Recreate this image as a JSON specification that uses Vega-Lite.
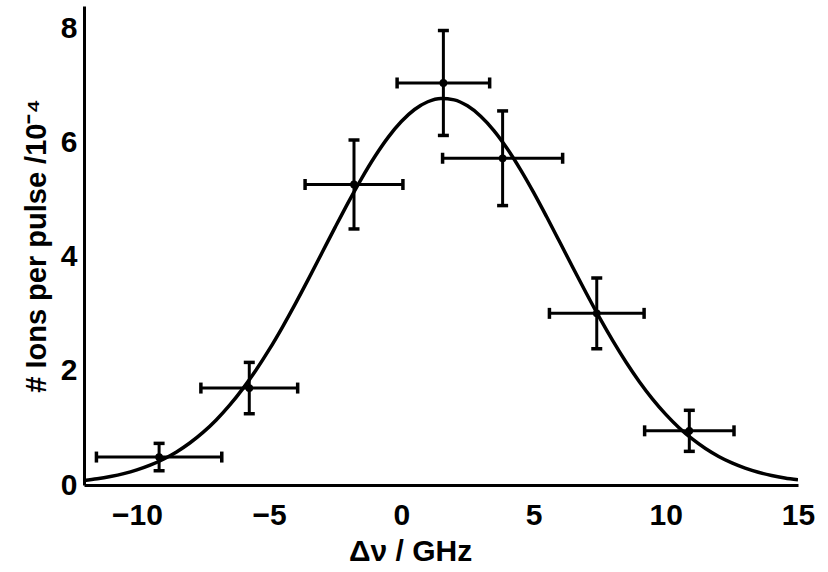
{
  "$schema": "https://vega.github.io/schema/vega-lite/v6.json",
  "autosize": {"type": "none"},
  "width": 714,
  "height": 479,
  "padding": {"left": 84, "top": 6, "right": 30, "bottom": 87},
  "background": "white",
  "config": {
    "view": {"stroke": null},
    "font": "Liberation Sans",
    "axis": {
      "grid": false,
      "domainColor": "black",
      "domainWidth": 3,
      "ticks": false,
      "labelFont": "Liberation Sans",
      "labelFontWeight": "bold",
      "labelFontSize": 30,
      "labelColor": "black",
      "titleFont": "Liberation Sans",
      "titleFontWeight": "bold",
      "titleFontSize": 30,
      "titleColor": "black"
    }
  },
  "datasets": {
    "points": [
      {"dv": -9.16, "ions": 0.49, "dvErr": 2.37, "ionsErr": 0.24},
      {"dv": -5.75, "ions": 1.70, "dvErr": 1.83, "ionsErr": 0.45},
      {"dv": -1.79, "ions": 5.27, "dvErr": 1.85, "ionsErr": 0.78},
      {"dv": 1.59, "ions": 7.05, "dvErr": 1.75, "ionsErr": 0.92},
      {"dv": 3.83, "ions": 5.73, "dvErr": 2.27, "ionsErr": 0.83},
      {"dv": 7.39, "ions": 3.01, "dvErr": 1.79, "ionsErr": 0.62},
      {"dv": 10.89, "ions": 0.95, "dvErr": 1.69, "ionsErr": 0.36}
    ],
    "fit": [
      {"dv": -12, "ions": 0.079}, {"dv": -11.5, "ions": 0.108}, {"dv": -11, "ions": 0.148},
      {"dv": -10.5, "ions": 0.199}, {"dv": -10, "ions": 0.265}, {"dv": -9.5, "ions": 0.348},
      {"dv": -9, "ions": 0.452}, {"dv": -8.5, "ions": 0.580}, {"dv": -8, "ions": 0.736},
      {"dv": -7.5, "ions": 0.922}, {"dv": -7, "ions": 1.141}, {"dv": -6.5, "ions": 1.395},
      {"dv": -6, "ions": 1.686}, {"dv": -5.5, "ions": 2.012}, {"dv": -5, "ions": 2.373},
      {"dv": -4.5, "ions": 2.766}, {"dv": -4, "ions": 3.185}, {"dv": -3.5, "ions": 3.623},
      {"dv": -3, "ions": 4.072}, {"dv": -2.5, "ions": 4.522}, {"dv": -2, "ions": 4.962},
      {"dv": -1.5, "ions": 5.379}, {"dv": -1, "ions": 5.761}, {"dv": -0.5, "ions": 6.097},
      {"dv": 0, "ions": 6.374}, {"dv": 0.5, "ions": 6.585}, {"dv": 1, "ions": 6.721},
      {"dv": 1.5, "ions": 6.778}, {"dv": 2, "ions": 6.754}, {"dv": 2.5, "ions": 6.649},
      {"dv": 3, "ions": 6.467}, {"dv": 3.5, "ions": 6.215}, {"dv": 4, "ions": 5.901},
      {"dv": 4.5, "ions": 5.536}, {"dv": 5, "ions": 5.132}, {"dv": 5.5, "ions": 4.699},
      {"dv": 6, "ions": 4.252}, {"dv": 6.5, "ions": 3.801}, {"dv": 7, "ions": 3.358},
      {"dv": 7.5, "ions": 2.930}, {"dv": 8, "ions": 2.527}, {"dv": 8.5, "ions": 2.153},
      {"dv": 9, "ions": 1.812}, {"dv": 9.5, "ions": 1.507}, {"dv": 10, "ions": 1.239},
      {"dv": 10.5, "ions": 1.005}, {"dv": 11, "ions": 0.807}, {"dv": 11.5, "ions": 0.639},
      {"dv": 12, "ions": 0.500}, {"dv": 12.5, "ions": 0.387}, {"dv": 13, "ions": 0.296},
      {"dv": 13.5, "ions": 0.224}, {"dv": 14, "ions": 0.167}, {"dv": 14.5, "ions": 0.123},
      {"dv": 15, "ions": 0.090}
    ]
  },
  "layer": [
    {
      "data": {"name": "fit"},
      "mark": {"type": "line", "color": "black", "strokeWidth": 3.5, "interpolate": "monotone", "clip": true},
      "encoding": {
        "x": {
          "field": "dv", "type": "quantitative", "title": "Δν / GHz",
          "scale": {"domain": [-12, 15], "nice": false, "zero": false},
          "axis": {
            "values": [-10, -5, 0, 5, 10, 15],
            "format": "d",
            "labelExpr": "replace(datum.label, '-', '−')",
            "labelPadding": 15,
            "labelFlush": false,
            "titleFontSize": 30,
            "titleX": 326,
            "titleY": 75,
            "titleAlign": "center",
            "titleBaseline": "alphabetic"
          }
        },
        "y": {
          "field": "ions", "type": "quantitative", "title": "# Ions per pulse /10⁻⁴",
          "scale": {"domain": [0, 8.4], "nice": false},
          "axis": {
            "values": [0, 2, 4, 6, 8],
            "format": "d",
            "labelPadding": 7,
            "labelFlush": false,
            "titleFontSize": 29,
            "titlePadding": 9
          }
        }
      }
    },
    {
      "data": {"name": "points"},
      "mark": {"type": "errorbar", "color": "black", "thickness": 3, "ticks": {"size": 11, "thickness": 3.5, "color": "black", "opacity": 1}},
      "encoding": {
        "x": {"field": "dv", "type": "quantitative", "title": "Δν / GHz"},
        "xError": {"field": "dvErr"},
        "y": {"field": "ions", "type": "quantitative", "title": "# Ions per pulse /10⁻⁴"}
      }
    },
    {
      "data": {"name": "points"},
      "mark": {"type": "errorbar", "color": "black", "thickness": 3, "ticks": {"size": 11, "thickness": 3.5, "color": "black", "opacity": 1}},
      "encoding": {
        "y": {"field": "ions", "type": "quantitative", "title": "# Ions per pulse /10⁻⁴"},
        "yError": {"field": "ionsErr"},
        "x": {"field": "dv", "type": "quantitative", "title": "Δν / GHz"}
      }
    },
    {
      "data": {"name": "points"},
      "mark": {"type": "point", "filled": true, "color": "black", "opacity": 1, "size": 60},
      "encoding": {
        "x": {"field": "dv", "type": "quantitative", "title": "Δν / GHz"},
        "y": {"field": "ions", "type": "quantitative", "title": "# Ions per pulse /10⁻⁴"}
      }
    }
  ]
}
